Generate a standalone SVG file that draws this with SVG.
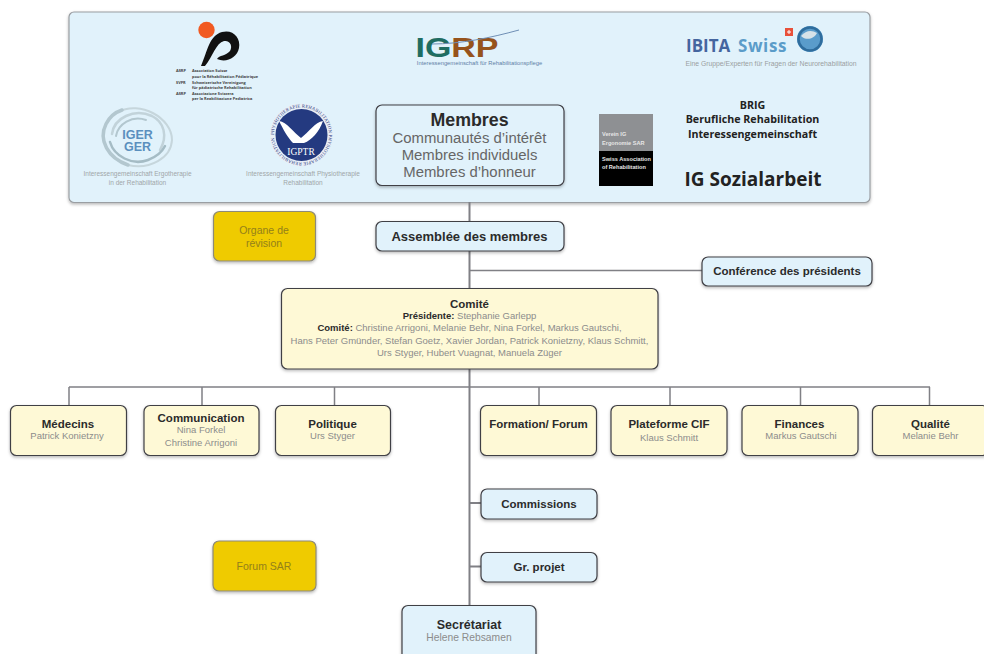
<svg xmlns="http://www.w3.org/2000/svg" width="984" height="654" viewBox="0 0 984 654">
<style>
text{font-family:"Liberation Sans",Arial,sans-serif;text-anchor:middle}
.b{fill:#2b2b2b;font-weight:700;font-size:11.500px}
.g{fill:#8c8c8c;font-size:9.500px}
.blue{fill:#e1f2fb;stroke:#3f3f45;stroke-width:1.200;filter:url(#s)}
.yel{fill:#fef9d6;stroke:#3f3f45;stroke-width:1.200;filter:url(#s)}
.gold{fill:#efcb00;stroke:#8d8a78;stroke-width:1.200;filter:url(#s)}
.c{stroke:#808085;stroke-width:2;fill:none}
.t{stroke:#808085;stroke-width:1.500;fill:none}
.sm{font-size:3.900px;font-weight:700;fill:#444;text-anchor:start;font-family:"Open Sans","Liberation Sans",sans-serif}
.cap{font-size:6.500px;fill:#a0a6a8}
.op{font-family:"Open Sans","Liberation Sans",sans-serif;font-weight:700;fill:#222}
.sar{font-size:5.600px;font-weight:700;fill:#e6e6e6;text-anchor:start}
.gt{font-size:10.500px;fill:#93801a}
</style>
<defs>
<filter id="s" x="-10%" y="-15%" width="120%" height="135%"><feDropShadow dx="0" dy="1.500" stdDeviation="1.600" flood-color="#000" flood-opacity=".28"/></filter>
<path id="ring" d="M274 135A27.500 27.500 0 1 1 329 135A27.500 27.500 0 1 1 274 135"/>
</defs>
<rect width="984" height="654" fill="#fff"/>
<g id="panel">
<rect x="69" y="12" width="801" height="190.500" rx="5" fill="#e1f2fb" stroke="#9a9ea2" stroke-width="1.200" filter="url(#s)"/>
</g>
<g id="connectors">
<path class="c" d="M469.500 202V605.500"/>
<path class="t" d="M470 270.500H702M69 387H930M69 387V405M202 387V405M334.500 387V405M539 387V405M670 387V405M800.500 387V405M929.500 387V405"/>
<path class="c" d="M470 503H481M470 566.500H481"/>
</g>
<g id="logo-asrp">
<circle cx="206.500" cy="30" r="8.200" fill="#f15a22"/>
<path d="M201 66C208 50 209 36 222 32C233 29 241 38 239 48C237 58 226 63 217 59C219 55 226 56 230 51C233 46 230 40 224 41C216 43 213 56 205 66Z" fill="#111"/>
<text class="sm" x="176" y="72">ASRP</text><text class="sm" x="192" y="72">Association Suisse</text>
<text class="sm" x="192" y="78">pour la Réhabilitation Pédiatrique</text>
<text class="sm" x="176" y="84">SVPR</text><text class="sm" x="192" y="84">Schweizerische Vereinigung</text>
<text class="sm" x="192" y="89">für pädiatrische Rehabilitation</text>
<text class="sm" x="176" y="95">ASRP</text><text class="sm" x="192" y="95">Associazione Svizzera</text>
<text class="sm" x="192" y="100">per la Reabilitazione Pediatrica</text>
</g>
<g id="logo-iger">
<g fill="none" stroke-linecap="round">
<path d="M118 112C140 100 172 118 172 140C171 158 150 170 128 165" stroke="#c6d6dc" stroke-width="2"/>
<path d="M128 165C108 158 98 140 106 124C110 116 116 112 122 110" stroke="#b3c7cf" stroke-width="3.500"/>
<path d="M112 134C114 118 134 108 152 116C164 122 168 136 160 150" stroke="#c2d3da" stroke-width="2.500"/>
<path d="M110 142C114 156 132 166 148 160C156 157 162 152 165 146" stroke="#a5bcc5" stroke-width="2.500"/>
<path d="M116 136C118 124 132 115 146 120" stroke="#b3c7cf" stroke-width="2"/>
</g>
<text x="137.500" y="139" style="font-size:12.500px;font-weight:700;fill:#5a8fbe">IGER<tspan x="137.500" dy="11.500">GER</tspan></text>
<text class="cap" x="137.500" y="176">Interessengemeinschaft Ergotherapie</text>
<text class="cap" x="137.500" y="185">in der Rehabilitation</text>
</g>
<g id="logo-igptr">
<circle cx="301.500" cy="135" r="31.500" fill="#e8eef6"/>
<circle cx="301.500" cy="135" r="26" fill="#243a80"/>
<text style="font-size:4.600px;fill:#26397f;font-family:'Liberation Serif',serif;text-anchor:start"><textPath href="#ring" textLength="170">PHYSIOTHERAPIE REHABILITATION PHYSIOTHERAPIE REHABILITATION</textPath></text>
<path d="M279 121C287 122 293 132 301 138C309 132 315 122 323 121C319 132 312 140 304 143L293 143C288 138 283 129 279 121Z" fill="#fff"/>
<text x="301" y="155" style="font-size:9.500px;fill:#fff;font-family:'Liberation Serif',serif">IGPTR</text>
<text class="cap" x="303" y="176">Interessengemeinschaft Physiotherapie</text>
<text class="cap" x="303" y="185">Rehabilitation</text>
</g>
<g id="logo-igrp">
<text x="415.500" y="57" textLength="83" lengthAdjust="spacingAndGlyphs" style="font-size:27px;font-weight:700;fill:#96531c;text-anchor:start"><tspan fill="#1f6d62">IG</tspan>RP</text>
<path d="M432 44C460 44 490 38 519 30" fill="none" stroke="#6f8fb5" stroke-width="1"/>
<text x="479.500" y="65" style="font-size:5.800px;fill:#5f7ea6">Interessengemeinschaft für Rehabilitationspflege</text>
</g>
<g id="logo-ibita">
<text x="686" y="52" style="font-size:17px;font-weight:700;fill:#44659f;text-anchor:start;font-family:'Open Sans','Liberation Sans',sans-serif">IBITA</text>
<text x="738" y="52" style="font-size:17px;font-weight:700;fill:#5b9cc9;text-anchor:start;letter-spacing:.6px;font-family:'Open Sans','Liberation Sans',sans-serif">Swiss</text>
<rect x="785" y="28" width="8" height="8" fill="#e8503a"/><path d="M787 32H791M789 30V34" stroke="#fff"/>
<circle cx="810" cy="39" r="13" fill="#5a9ccb"/><path d="M801 36C806 30 812 30 817 33C814 39 806 41 801 36Z" fill="#d6e2e8"/><circle cx="810" cy="39" r="11.500" fill="none" stroke="#2f6d9d" stroke-width="2.500"/>
<text x="771" y="65.500" style="font-size:6.800px;fill:#9a9fa1">Eine Gruppe/Experten für Fragen der Neurorehabilitation</text>
</g>
<g id="logo-sar">
<rect x="599" y="114" width="54" height="37" fill="#8e9093"/>
<rect x="599" y="151" width="54" height="35" fill="#000"/>
<text class="sar" x="602" y="135.500">Verein IG</text>
<text class="sar" x="602" y="144.500">Ergonomie SAR</text>
<text class="sar" x="602" y="160.500">Swiss Association</text>
<text class="sar" x="602" y="168.500">of Rehabilitation</text>
</g>
<g id="logo-brig">
<text class="op" x="752.500" y="109" style="font-size:10.700px">BRIG</text>
<text class="op" x="752.500" y="123" style="font-size:10.700px">Berufliche Rehabilitation</text>
<text class="op" x="752.500" y="138" style="font-size:10.700px">Interessengemeinschaft</text>
</g>
<g id="logo-sozial">
<text class="op" x="753" y="186" style="font-size:19px">IG Sozialarbeit</text>
</g>
<g id="membres">
<rect class="blue" x="376" y="105" width="188" height="80.500" rx="6"/>
<text x="469.500" y="126" style="font-size:17.800px;font-weight:700;fill:#2b2b2b">Membres</text>
<text x="469.500" y="143" style="font-size:14.900px;fill:#666">Communautés d’intérêt</text>
<text x="469.500" y="160" style="font-size:14.900px;fill:#666">Membres individuels</text>
<text x="469.500" y="177" style="font-size:14.900px;fill:#666">Membres d’honneur</text>
</g>
<g id="organe">
<rect class="gold" x="213.500" y="211.500" width="102" height="49.500" rx="6"/>
<text class="gt" x="264" y="234">Organe de</text>
<text class="gt" x="264" y="247">révision</text>
</g>
<g id="assemblee">
<rect class="blue" x="376" y="221.500" width="188" height="29.500" rx="6"/>
<text class="b" x="469.500" y="241" style="font-size:13px">Assemblée des membres</text>
</g>
<g id="conference">
<rect class="blue" x="702" y="257" width="170" height="29" rx="6"/>
<text class="b" x="787" y="275">Conférence des présidents</text>
</g>
<g id="comite">
<rect class="yel" x="281.500" y="288.500" width="376.500" height="80.500" rx="6"/>
<text class="b" x="469.500" y="308">Comité</text>
<text x="469.500" y="319" class="g"><tspan style="font-weight:700;fill:#2b2b2b">Présidente: </tspan>Stephanie Garlepp</text>
<text x="469.500" y="331" class="g"><tspan style="font-weight:700;fill:#2b2b2b">Comité: </tspan>Christine Arrigoni, Melanie Behr, Nina Forkel, Markus Gautschi,</text>
<text x="469.500" y="344" class="g">Hans Peter Gmünder, Stefan Goetz, Xavier Jordan, Patrick Konietzny, Klaus Schmitt,</text>
<text x="469.500" y="356" class="g">Urs Styger, Hubert Vuagnat, Manuela Züger</text>
</g>
<g id="medecins">
<rect class="yel" x="10.500" y="405.500" width="116" height="50" rx="6"/>
<text class="b" x="68" y="428">Médecins</text><text class="g" x="67" y="439">Patrick Konietzny</text>
</g>
<g id="communication">
<rect class="yel" x="144" y="405.500" width="115" height="50" rx="6"/>
<text class="b" x="201" y="422">Communication</text><text class="g" x="201" y="433">Nina Forkel</text><text class="g" x="201" y="446">Christine Arrigoni</text>
</g>
<g id="politique">
<rect class="yel" x="275.500" y="405.500" width="115" height="50" rx="6"/>
<text class="b" x="332.500" y="428">Politique</text><text class="g" x="332.500" y="439">Urs Styger</text>
</g>
<g id="formation">
<rect class="yel" x="480.500" y="405.500" width="116" height="50" rx="6"/>
<text class="b" x="538.500" y="428">Formation/ Forum</text>
</g>
<g id="plateforme">
<rect class="yel" x="611" y="405.500" width="116" height="50" rx="6"/>
<text class="b" x="669" y="428">Plateforme CIF</text><text class="g" x="669" y="441">Klaus Schmitt</text>
</g>
<g id="finances">
<rect class="yel" x="742" y="405.500" width="116" height="50" rx="6"/>
<text class="b" x="799.500" y="428">Finances</text><text class="g" x="801" y="439">Markus Gautschi</text>
</g>
<g id="qualite">
<rect class="yel" x="872.500" y="405.500" width="116" height="50" rx="6"/>
<text class="b" x="930.500" y="428">Qualité</text><text class="g" x="930.500" y="439">Melanie Behr</text>
</g>
<g id="commissions">
<rect class="blue" x="481" y="489" width="116" height="30" rx="6"/>
<text class="b" x="539" y="508">Commissions</text>
</g>
<g id="projet">
<rect class="blue" x="481" y="552.500" width="116" height="29.500" rx="6"/>
<text class="b" x="539" y="571">Gr. projet</text>
</g>
<g id="forum">
<rect class="gold" x="213" y="541" width="103" height="50" rx="6"/>
<text class="gt" x="264" y="570">Forum SAR</text>
</g>
<g id="secretariat">
<rect class="blue" x="402" y="605.500" width="134" height="60" rx="6"/>
<text x="469" y="629" style="font-size:12.500px;font-weight:700;fill:#2b2b2b">Secrétariat</text>
<text x="469" y="641" style="font-size:10.300px;fill:#8c8c8c">Helene Rebsamen</text>
</g>
</svg>
